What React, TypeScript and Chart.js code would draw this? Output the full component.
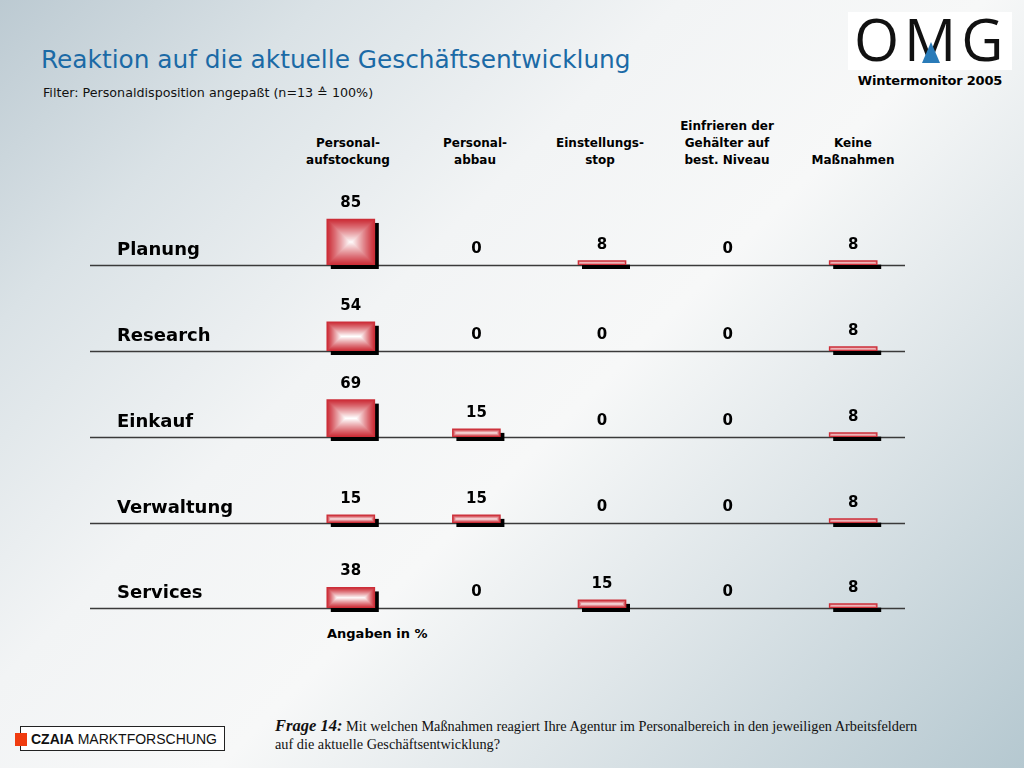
import React, { useEffect, useRef } from "react";
import { Chart, registerables } from "chart.js";

Chart.register(...registerables);

// ---------- data ----------
const categories: string[][] = [
  ["Personal-", "aufstockung"],
  ["Personal-", "abbau"],
  ["Einstellungs-", "stop"],
  ["Einfrieren der", "Gehälter auf", "best. Niveau"],
  ["Keine", "Maßnahmen"],
];
const rowLabels = ["Planung", "Research", "Einkauf", "Verwaltung", "Services"];
const planung = [85, 0, 8, 0, 8];
const research = [54, 0, 0, 0, 8];
const einkauf = [69, 15, 0, 0, 8];
const verwaltung = [15, 15, 0, 0, 8];
const services = [38, 0, 15, 0, 8];
const seriesValues = [planung, research, einkauf, verwaltung, services];

// ---------- layout ----------
const ROW_BASE = [265, 351, 437, 523, 608];
const CANVAS_H = 88;
const PAD_TOP = 2;
const PAD_BOTTOM = 8;
const AREA_LEFT = 288;
const AREA_RIGHT = 916;
const Y_MAX = 144;
const COL_CENTERS = [348, 475, 600, 727, 853];

const SANS = '"DejaVu Sans", Verdana, sans-serif';
const RED: [number, number, number] = [204, 46, 56];

function mix(t: number) {
  const c = RED.map((v) => Math.round(v + (255 - v) * t));
  return `rgb(${c[0]},${c[1]},${c[2]})`;
}

const pillowPlugin = {
  id: "pillow",
  beforeDatasetsDraw(chart: any) {
    const ctx = chart.ctx;
    const area = chart.chartArea;
    ctx.save();
    ctx.strokeStyle = "#3a3a3a";
    ctx.lineWidth = 1.5;
    ctx.beginPath();
    ctx.moveTo(90, area.bottom + 0.5);
    ctx.lineTo(905, area.bottom + 0.5);
    ctx.stroke();
    const meta = chart.getDatasetMeta(0);
    const data = chart.data.datasets[0].data as number[];
    meta.data.forEach((bar: any, i: number) => {
      if (!data[i]) return;
      const p = bar.getProps(["x", "y", "base", "width"], true);
      const left = p.x - p.width / 2;
      const h = p.base - p.y;
      ctx.fillStyle = "#000";
      ctx.fillRect(left + 4, p.y + 4, p.width, h);
    });
    ctx.restore();
  },
  afterDatasetsDraw(chart: any) {
    const ctx = chart.ctx;
    const meta = chart.getDatasetMeta(0);
    const data = chart.data.datasets[0].data as number[];
    ctx.save();
    meta.data.forEach((bar: any, i: number) => {
      const p = bar.getProps(["x", "y", "base", "width"], true);
      const v = data[i];
      if (v) {
        const left = p.x - p.width / 2;
        const h = p.base - p.y;
        const steps = Math.max(1, Math.floor(Math.min(p.width, h) / 2));
        for (let s = 1; s <= steps; s++) {
          const t = Math.pow(s / steps, 1.1);
          ctx.fillStyle = mix(t);
          ctx.fillRect(left + s, p.y + s, p.width - 2 * s, h - 2 * s);
        }
      }
      ctx.fillStyle = "#000";
      ctx.font = `bold 15px ${SANS}`;
      ctx.textAlign = "center";
      ctx.textBaseline = "middle";
      ctx.fillText(String(v), p.x, (v ? p.y : p.base) - 16);
    });
    ctx.restore();
  },
};

function RowChart({ values, top }: { values: number[]; top: number }) {
  const ref = useRef<HTMLCanvasElement>(null);
  useEffect(() => {
    if (!ref.current) return;
    const chart = new Chart(ref.current, {
      type: "bar",
      data: {
        labels: categories.map((c) => c.join(" ")),
        datasets: [
          {
            data: values,
            backgroundColor: values.map((v) => (v ? mix(0) : "rgba(0,0,0,0)")),
            borderWidth: 0,
            barThickness: 48,
          },
        ],
      },
      options: {
        animation: false,
        responsive: false,
        maintainAspectRatio: false,
        layout: {
          padding: { left: AREA_LEFT, right: 1024 - AREA_RIGHT, top: PAD_TOP, bottom: PAD_BOTTOM },
        },
        scales: {
          x: { display: false },
          y: { display: false, min: 0, max: Y_MAX },
        },
        plugins: { legend: { display: false }, tooltip: { enabled: false } },
      },
      plugins: [pillowPlugin],
    } as any);
    return () => chart.destroy();
  }, [values]);
  return (
    <canvas
      ref={ref}
      width={1024}
      height={CANVAS_H}
      style={{ position: "absolute", left: 0, top, width: 1024, height: CANVAS_H }}
    />
  );
}

export default function App() {
  return (
    <div
      style={{
        position: "absolute",
        left: 0,
        top: 0,
        width: 1024,
        height: 768,
        overflow: "hidden",
        fontFamily: SANS,
        background:
          "linear-gradient(135deg, #bccad2 0%, #dae2e6 18%, #f2f4f5 38%, #f7f8f8 55%, #dfe6e9 72%, #b5c8d0 100%)",
      }}
    >
      {/* title */}
      <div style={{ position: "absolute", left: 41, top: 45, fontSize: 24.8, color: "#1b6aa6", whiteSpace: "nowrap" }}>
        Reaktion auf die aktuelle Geschäftsentwicklung
      </div>
      <div style={{ position: "absolute", left: 43, top: 85, fontSize: 12.7, color: "#111", whiteSpace: "nowrap" }}>
        Filter: Personaldisposition angepaßt (n=13 ≙ 100%)
      </div>

      {/* logo */}
      <div style={{ position: "absolute", left: 848, top: 12, width: 164, height: 58, background: "#fff" }} />
      <div
        style={{
          position: "absolute",
          left: 854,
          top: 3,
          fontSize: 58,
          fontFamily: '"Open Sans", "DejaVu Sans", sans-serif',
          fontWeight: 400,
          letterSpacing: 5,
          color: "#111",
          lineHeight: "72px",
          whiteSpace: "nowrap",
        }}
      >
        OMG
      </div>
      <svg style={{ position: "absolute", left: 918, top: 40, width: 26, height: 26 }}>
        <polygon points="13,2 4,23 22,23" fill="#2a7bb8" />
      </svg>
      <div
        style={{
          position: "absolute",
          left: 820,
          width: 220,
          top: 73,
          textAlign: "center",
          fontSize: 13,
          letterSpacing: -0.2,
          fontWeight: "bold",
        }}
      >
        Wintermonitor 2005
      </div>

      {/* column headers */}
      {categories.map((lines, i) => (
        <div
          key={i}
          style={{
            position: "absolute",
            left: COL_CENTERS[i] - 75,
            width: 150,
            bottom: 768 - 169,
            textAlign: "center",
            fontSize: 12,
            fontWeight: "bold",
            lineHeight: "17px",
          }}
        >
          {lines.map((l, j) => (
            <div key={j}>{l}</div>
          ))}
        </div>
      ))}

      {/* row charts */}
      {seriesValues.map((vals, i) => (
        <RowChart key={i} values={vals} top={ROW_BASE[i] - CANVAS_H + PAD_BOTTOM} />
      ))}

      {/* row labels */}
      {rowLabels.map((r, i) => (
        <div
          key={r}
          style={{ position: "absolute", left: 117, top: ROW_BASE[i] - 27, fontSize: 18, fontWeight: "bold", lineHeight: "22px" }}
        >
          {r}
        </div>
      ))}

      <div style={{ position: "absolute", left: 327, top: 626, fontSize: 13, fontWeight: "bold" }}>Angaben in %</div>

      {/* footer */}
      <div
        style={{
          position: "absolute",
          left: 20,
          top: 726,
          width: 205,
          height: 25,
          border: "1px solid #222",
          background: "#fff",
          boxSizing: "border-box",
        }}
      />
      <div style={{ position: "absolute", left: 15, top: 733, width: 12, height: 13, background: "#f03c10" }} />
      <div
        style={{
          position: "absolute",
          left: 31,
          top: 731,
          fontSize: 14,
          lineHeight: "17px",
          fontFamily: '"Liberation Sans", Arial, sans-serif',
          whiteSpace: "nowrap",
          color: "#111",
        }}
      >
        <b>CZAIA</b> MARKTFORSCHUNG
      </div>
      <div
        style={{
          position: "absolute",
          left: 275,
          top: 717,
          width: 700,
          fontFamily: '"Liberation Serif", "Times New Roman", serif',
          fontSize: 14.3,
          lineHeight: "18px",
          color: "#111",
          whiteSpace: "nowrap",
        }}
      >
        <b style={{ fontStyle: "italic", fontSize: 16.5 }}>Frage 14:</b> Mit welchen Maßnahmen reagiert Ihre Agentur im
        Personalbereich in den jeweiligen Arbeitsfeldern
        <br />
        auf die aktuelle Geschäftsentwicklung?
      </div>
    </div>
  );
}
